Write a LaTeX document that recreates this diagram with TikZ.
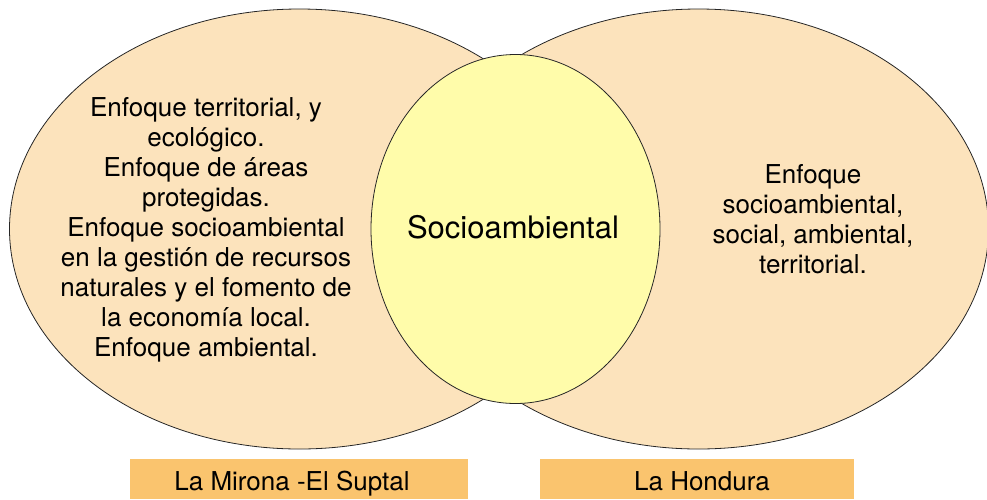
\documentclass[tikz,border=0pt]{standalone}
\usepackage{fontspec}
\setmainfont{TeX Gyre Heros}
\usetikzlibrary{shapes.geometric}
\definecolor{peach}{RGB}{252,227,188}
\definecolor{paleyellow}{RGB}{255,252,170}
\definecolor{labelorange}{RGB}{250,196,110}
\tikzset{
  setellipse/.style={ellipse, draw=black!85, line width=0.8pt, fill=peach,
    minimum width=580pt, minimum height=440pt, inner sep=0pt},
  centercircle/.style={ellipse, draw=black!85, line width=0.8pt, fill=paleyellow,
    minimum width=289pt, minimum height=349pt, inner sep=0pt},
  titletext/.style={inner sep=0pt, text height=18pt, text depth=0pt,
    font=\fontsize{31pt}{37pt}\selectfont},
  bodytext/.style={align=center, inner sep=0pt,
    font=\fontsize{26pt}{30pt}\selectfont},
  labelbox/.style={rectangle, fill=labelorange, minimum height=40pt, inner sep=0pt,
    text height=22pt, text depth=0pt,
    font=\fontsize{26pt}{30pt}\selectfont}
}
\begin{document}
\begin{tikzpicture}[x=1pt,y=-1pt]
\useasboundingbox (0,0) rectangle (987,499);
\clip (0,0) rectangle (987,499);
\node[setellipse] (left) at (299.5,229) {};
\node[setellipse] (right) at (698.5,229) {};
\node[centercircle] (soc) at (515.5,229) {};
\node[titletext] (soctext) at ([xshift=-2.5pt]soc.center) {Socioambiental};
\node[bodytext] (lefttext) at (206,229.4) {Enfoque territorial, y\\ecológico.\\Enfoque de áreas\\protegidas.\\Enfoque socioambiental\\en la gestión de recursos\\naturales y el fomento de\\la economía local.\\Enfoque ambiental.};
\node[bodytext] (righttext) at (813,218.7) {Enfoque\\socioambiental,\\social, ambiental,\\territorial.};
\node[labelbox, minimum width=338pt] (lab1) at (299,479) {La Mirona -El Suptal\hspace*{14pt}};
\node[labelbox, minimum width=314pt] (lab2) at (697,479) {\hspace*{10pt}La Hondura};
\end{tikzpicture}
\end{document}
